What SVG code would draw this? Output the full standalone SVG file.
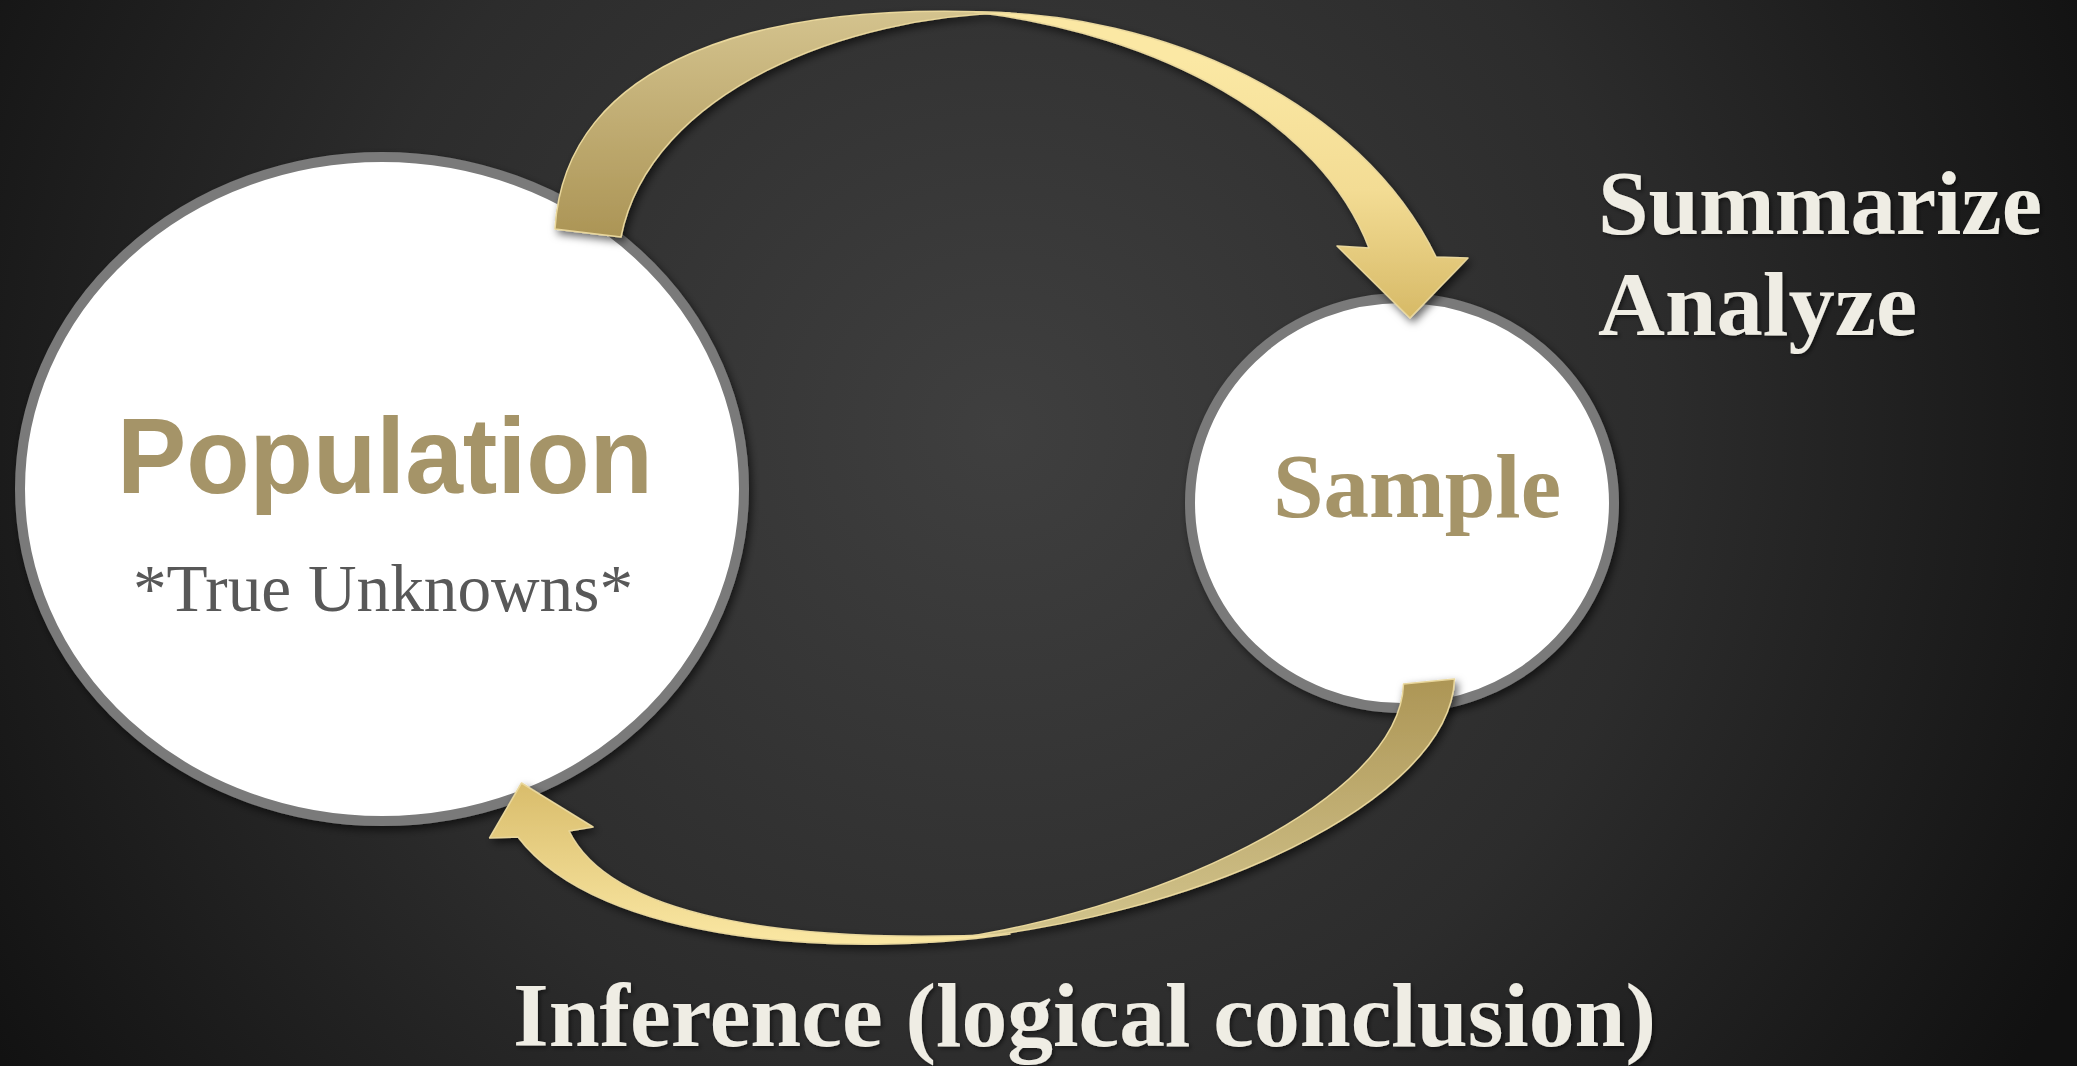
<svg xmlns="http://www.w3.org/2000/svg" width="2077" height="1066" viewBox="0 0 2077 1066">
<defs>
<radialGradient id="bg" gradientUnits="userSpaceOnUse" cx="1000" cy="430" r="1200">
<stop offset="0" stop-color="#3f3f3f"/>
<stop offset="0.55" stop-color="#2c2c2c"/>
<stop offset="1" stop-color="#111111"/>
</radialGradient>
<linearGradient id="gDarkTop" gradientUnits="userSpaceOnUse" x1="0" y1="240" x2="0" y2="10">
<stop offset="0" stop-color="#ab9455"/>
<stop offset="1" stop-color="#d4c38e"/>
</linearGradient>
<linearGradient id="gLightTop" gradientUnits="userSpaceOnUse" x1="0" y1="60" x2="0" y2="320">
<stop offset="0" stop-color="#fbe8a4"/>
<stop offset="0.5" stop-color="#f3dc94"/>
<stop offset="1" stop-color="#d6b966"/>
</linearGradient>
<linearGradient id="gDarkBot" gradientUnits="userSpaceOnUse" x1="0" y1="680" x2="0" y2="940">
<stop offset="0" stop-color="#ad9656"/>
<stop offset="1" stop-color="#d3c58e"/>
</linearGradient>
<linearGradient id="gLightBot" gradientUnits="userSpaceOnUse" x1="0" y1="945" x2="0" y2="785">
<stop offset="0" stop-color="#fbe8a4"/>
<stop offset="1" stop-color="#d9bd6c"/>
</linearGradient>
<filter id="shadow" x="-20%" y="-20%" width="140%" height="140%">
<feDropShadow dx="3" dy="4" stdDeviation="4" flood-color="#000" flood-opacity="0.6"/>
</filter>
<filter id="tshadow" x="-5%" y="-20%" width="110%" height="140%">
<feDropShadow dx="2" dy="2" stdDeviation="2" flood-color="#000" flood-opacity="0.5"/>
</filter>
</defs>
<style>
.node{fill:#ffffff;stroke:#7a7a7a;stroke-width:10}
.arrow{stroke:#e9d79c;stroke-width:1.5;stroke-linejoin:round}
.gold{fill:#a59468}
.label{fill:#efede4;font-family:"Liberation Serif",serif;font-weight:bold;font-size:90px}
</style>
<rect x="0" y="0" width="2077" height="1066" fill="url(#bg)"/>

<g id="population" filter="url(#shadow)">
<ellipse class="node" cx="382" cy="489" rx="362" ry="332"/>
<text class="gold" x="117" y="493" font-family="Liberation Sans, Arial, sans-serif" font-weight="bold" font-size="107" textLength="536" lengthAdjust="spacingAndGlyphs">Population</text>
<text x="133" y="611" fill="#595959" font-family="Liberation Serif, serif" font-size="67" textLength="500" lengthAdjust="spacingAndGlyphs">*True Unknowns*</text>
</g>

<g id="sample" filter="url(#shadow)">
<ellipse class="node" cx="1402" cy="503" rx="212" ry="205"/>
<text class="gold" x="1273" y="517" font-family="Liberation Serif, serif" font-weight="bold" font-size="90" textLength="288" lengthAdjust="spacingAndGlyphs">Sample</text>
</g>

<g id="connectors" filter="url(#shadow)">
<g id="arrow-summarize">
<path class="arrow" fill="url(#gDarkTop)" d="M555,229 C565,60 760,0 1010,13 C850,15 650,90 621,237 Z"/>
<path class="arrow" fill="url(#gLightTop)" d="M975,12 C1160,12 1360,100 1436,257 L1468,258 L1410,318 L1337,246 L1369,248 C1320,120 1160,35 975,12 Z"/>
</g>
<g id="arrow-inference">
<path class="arrow" fill="url(#gDarkBot)" d="M1403.5,684 L1454.5,679 C1450,800 1200,920 930,942 C1150,915 1400,800 1403.5,684 Z"/>
<path class="arrow" fill="url(#gLightBot)" d="M1010,934 C850,958 600,945 518,837 L489.6,838 L521.5,783 L593,827 L569,831 C610,915 780,945 1010,934 Z"/>
</g>
</g>

<g id="labels" filter="url(#tshadow)">
<text class="label" x="1598" y="234" textLength="444" lengthAdjust="spacingAndGlyphs">Summarize</text>
<text class="label" x="1598" y="335" textLength="319" lengthAdjust="spacingAndGlyphs">Analyze</text>
<text class="label" x="513" y="1046" textLength="1143" lengthAdjust="spacingAndGlyphs">Inference (logical conclusion)</text>
</g>
</svg>
